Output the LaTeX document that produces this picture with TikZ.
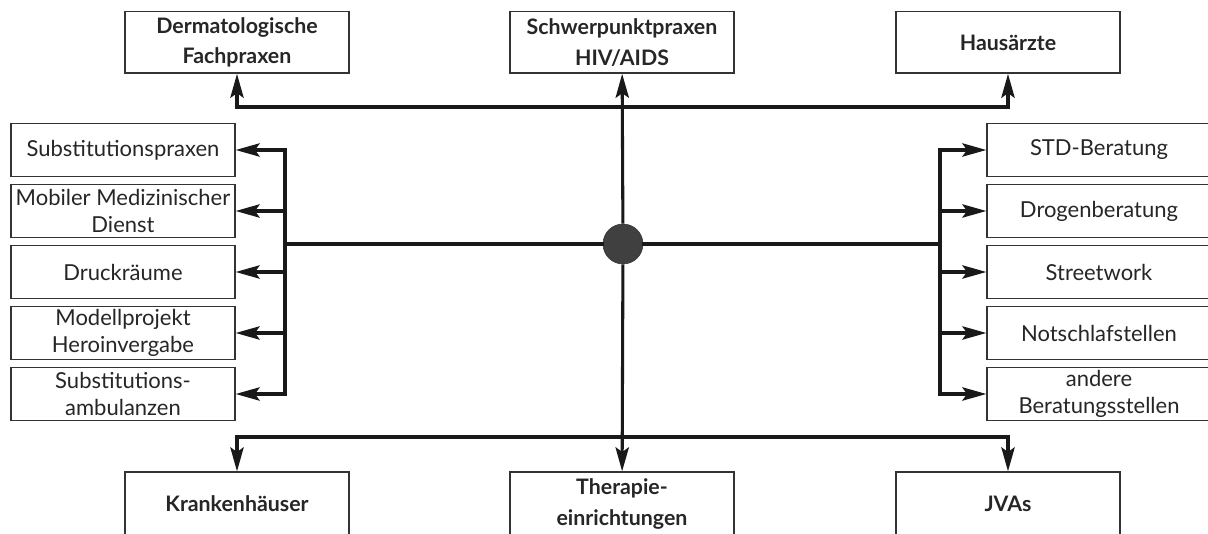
\documentclass[tikz,border=0pt]{standalone}
\usepackage{fontspec}
\setmainfont{Lato}
\usetikzlibrary{arrows.meta}
\begin{document}
\begin{tikzpicture}[x=0.75pt,y=-0.75pt,>={Stealth[length=18pt,width=10pt,inset=3.5pt]},
    box/.style={draw=black!80, line width=1pt, fill=white, minimum width=168pt, minimum height=39.75pt,
      align=center, inner sep=1pt, text=black!85, font=\fontsize{16.5}{20}\selectfont},
    mainbox/.style={box, minimum height=46pt, font=\bfseries\fontsize{16}{23}\selectfont},
    link/.style={->, line width=2.3pt, draw=black!90},
    bus/.style={line width=2.3pt, draw=black!90, line cap=rect}]
    \useasboundingbox (0,0) rectangle (1208,534);
    \clip (0,0) rectangle (1208,534);
    % top and bottom row
    \node (derm) [mainbox] at (237,42.5) {Dermatologische\\Fachpraxen};
    \node (hiv) [mainbox] at (622,42.5) {Schwerpunktpraxen\\HIV/AIDS};
    \node (haus) [mainbox] at (1008,42.5) {Hausärzte};
    \node (kh) [mainbox, minimum height=48pt] at (237,504) {Krankenhäuser};
    \node (ther) [mainbox, minimum height=48pt] at (622,504) {Therapie-\\einrichtungen};
    \node (jva) [mainbox, minimum height=48pt] at (1008,504) {JVAs};
    % left and right columns
    \foreach \t [count=\i] in {Substitutionspraxen, {Mobiler Medizinischer\\Dienst}, Druckräume,
        {Modellprojekt\\Heroinvergabe}, {Substitutions-\\ambulanzen}}
      \node (l\i) [box] at (123,89+61*\i) {\t};
    \foreach \t [count=\i] in {STD-Beratung, Drogenberatung, Streetwork, Notschlafstellen,
        {andere\\Beratungsstellen}}
      \node (r\i) [box] at (1099,89+61*\i) {\t};
    \node (hub) [circle, draw=black!80, fill=black!75, minimum size=30pt, inner sep=0pt] at (623,244) {};
    \coordinate (lbus) at (285,244);
    \coordinate (rbus) at (940,244);
    \coordinate (top) at (623,107);
    \coordinate (bot) at (623,437);
    % connectors
    \draw[bus] (lbus) -- (hub) -- (rbus);
    \draw[bus] (lbus |- l1.east) -- (lbus |- l5.east);
    \draw[bus] (rbus |- r1.west) -- (rbus |- r5.west);
    \foreach \i in {1,...,5} {
      \draw[link] (lbus |- l\i.east) -- (l\i.east);
      \draw[link] (rbus |- r\i.west) -- (r\i.west);
    }
    \draw[link] (hub) -- (hiv);
    \draw[link] (hub) -- (ther);
    \draw[link] (top) -| (derm);
    \draw[link] (top) -| (haus);
    \draw[link] (bot) -| (kh);
    \draw[link] (bot) -| (jva);
  \end{tikzpicture}
\end{document}
